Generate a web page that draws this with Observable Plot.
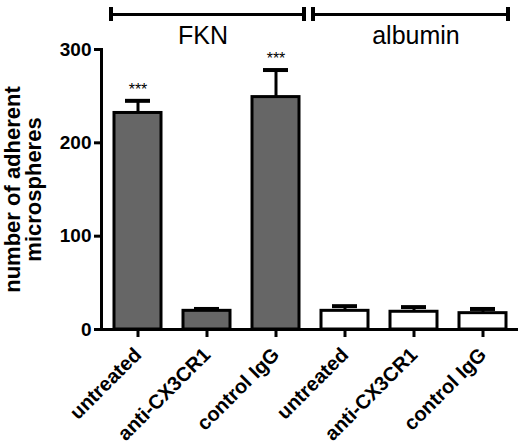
<!DOCTYPE html>
<html><head><meta charset="utf-8">
<script src="https://cdn.jsdelivr.net/npm/d3@7"></script>
<script src="https://cdn.jsdelivr.net/npm/@observablehq/plot@0.6"></script>
<style>
body{margin:0;background:#fff}
svg{font-family:"Liberation Sans",Arial,Helvetica,sans-serif}
</style>
</head><body><div id="chart"></div>
<script>
const treatments = ["untreated", "anti-CX3CR1", "control IgG"];
const groups = ["FKN", "albumin"];
const fknMeans = [232, 20, 249];
const fknErrors = [13, 2, 29];
const albuminMeans = [20, 19, 17.5];
const albuminErrors = [5, 5, 4.5];
const fknSignificance = ["***", "", "***"];
const albuminSignificance = ["", "", ""];
const yTicks = [0, 100, 200, 300];
const yLabel = "number of adherent\nmicrospheres";
const groupColors = ["#666666", "#ffffff"];

const meansBy = {FKN: fknMeans, albumin: albuminMeans};
const errorsBy = {FKN: fknErrors, albumin: albuminErrors};
const sigBy = {FKN: fknSignificance, albumin: albuminSignificance};

const rows = [];
groups.forEach(g => treatments.forEach((t, i) => rows.push({
  group: g, treatment: t, key: g + "|" + t,
  mean: meansBy[g][i], err: errorsBy[g][i], sig: sigBy[g][i]
})));
const brackets = groups.map(g => ({
  group: g,
  first: g + "|" + treatments[0],
  mid: g + "|" + treatments[1],
  last: g + "|" + treatments[treatments.length - 1]
}));
const yMax = yTicks[yTicks.length - 1];

const chart = Plot.plot({
  width: 520,
  height: 447,
  marginLeft: 101,
  marginRight: 2,
  marginTop: 49,
  marginBottom: 118,
  style: {fontSize: "20px", fontWeight: "bold", color: "black", background: "white"},
  x: {domain: rows.map(d => d.key), paddingInner: 0.32, paddingOuter: 0.17},
  y: {domain: [0, yMax]},
  color: {domain: groups, range: groupColors},
  marks: [
    Plot.frame({anchor: "left", strokeWidth: 3}),
    Plot.ruleY([0], {strokeWidth: 3}),
    Plot.axisY({ticks: yTicks, tickSize: 7, tickPadding: 3, strokeWidth: 3, fontSize: 19, fontWeight: "bold", label: null, tickFormat: d => d}),
    Plot.axisX({tickSize: 8, tickPadding: 14, tickRotate: -45, strokeWidth: 3, fontSize: 20, fontWeight: "bold", label: null, tickFormat: k => k.split("|")[1]}),
    Plot.ruleX(rows, {x: "key", y1: "mean", y2: d => d.mean + d.err, strokeWidth: 3}),
    Plot.tickY(rows, {x: "key", y: d => d.mean + d.err, strokeWidth: 4, insetLeft: 11, insetRight: 11}),
    Plot.barY(rows, {x: "key", y: "mean", fill: "group", stroke: "black", strokeWidth: 3}),
    Plot.text(rows.filter(d => d.sig), {x: "key", y: d => d.mean + d.err, text: "sig", dy: -6, lineAnchor: "bottom", fontSize: 16, fontWeight: "normal", letterSpacing: 2}),
    Plot.ruleY(brackets.slice(0, 1), {x1: "first", x2: "last", y: () => yMax, dy: -35, strokeWidth: 3, insetLeft: -3, insetRight: -5}),
    Plot.ruleY(brackets.slice(1), {x1: "first", x2: "last", y: () => yMax, dy: -35, strokeWidth: 3, insetLeft: -8, insetRight: -2}),
    Plot.ruleX(brackets.slice(0, 1), {x: "first", y1: () => yMax, y2: () => yMax, dx: -27, dy: -35, insetTop: -7, insetBottom: -7, strokeWidth: 4}),
    Plot.ruleX(brackets.slice(0, 1), {x: "last", y1: () => yMax, y2: () => yMax, dx: 28, dy: -35, insetTop: -7, insetBottom: -7, strokeWidth: 4}),
    Plot.ruleX(brackets.slice(1), {x: "first", y1: () => yMax, y2: () => yMax, dx: -32, dy: -35, insetTop: -7, insetBottom: -7, strokeWidth: 4}),
    Plot.ruleX(brackets.slice(1), {x: "last", y1: () => yMax, y2: () => yMax, dx: 25, dy: -35, insetTop: -7, insetBottom: -7, strokeWidth: 4}),
    Plot.text(brackets.slice(0, 1), {x: "mid", y: () => yMax, text: "group", dx: -4, dy: -6, lineAnchor: "bottom", fontSize: 25, fontWeight: "normal"}),
    Plot.text(brackets.slice(1), {x: "mid", y: () => yMax, text: "group", dx: 2, dy: -6, lineAnchor: "bottom", fontSize: 25, fontWeight: "normal"}),
    Plot.text([yLabel], {text: d => d, frameAnchor: "left", textAnchor: "middle", dx: -78, dy: 0, rotate: -90, lineAnchor: "middle", fontSize: 22, fontWeight: "bold", lineHeight: 0.95, letterSpacing: 0.8})
  ]
});
document.getElementById("chart").appendChild(chart);
</script>
</body></html>
